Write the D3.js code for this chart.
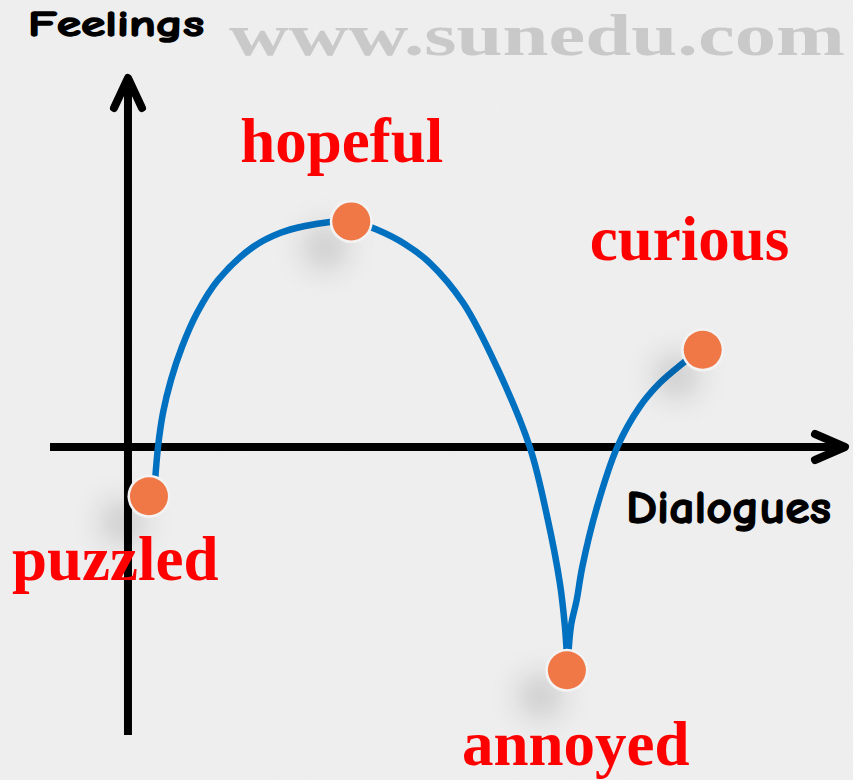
<!DOCTYPE html>
<html>
<head>
<meta charset="utf-8">
<script src="https://cdn.jsdelivr.net/npm/d3@7"></script>
<style>
  html, body { margin: 0; padding: 0; background: #eeeeee; }
  svg { display: block; }
</style>
</head>
<body>
<div id="chart"></div>
<script>
// ---------- data ----------
const feelings = ["puzzled", "hopeful", "annoyed", "curious"];
const dotX = [3.0, 31.9, 62.7, 82.1];
const dotY = [-8.2, 37.6, -37.2, 16.2];

// first stretch of the feeling curve (puzzled -> hopeful -> annoyed)
const arcX = [3.86, 4.29, 5.0, 6.14, 7.71, 9.86, 12.86, 17.86, 21.71, 25.29, 28.86, 31.86, 35.6, 39.6, 43.1, 47.9, 52.7, 57.4, 59.9, 61.7, 62.4, 62.7];
const arcY = [-5.83, 0, 5.67, 11.17, 16.67, 22.33, 27.83, 33.33, 35.67, 36.83, 37.5, 37.67, 36.2, 33.8, 30.7, 24.0, 13.3, 0, -11.7, -22.7, -29.7, -34.7];

// second stretch (annoyed -> curious)
const riseX = [62.9, 63.3, 64.1, 64.9, 67.0, 69.9, 73.1, 76.0, 79.3, 81.7];
const riseY = [-34.7, -29.7, -25.5, -20.0, -10.0, 0, 6.7, 10.7, 14.0, 16.2];

const xTitle = "Dialogues";
const yTitle = "Feelings";
const watermark = "www.sunedu.com";

// ---------- layout ----------
const W = 853, H = 780;
const xDomain = [-11.14, 102.43];
const yDomain = [-48, 61.5];
const labelOffsets = [[-137, 84], [-111, -59], [-105, 95], [-113, -90]];

const svg = d3.select("#chart").append("svg")
  .attr("width", W).attr("height", H);

const defs = svg.append("defs");
const sh = defs.append("filter").attr("id", "shadow")
  .attr("x", "-200%").attr("y", "-200%").attr("width", "500%").attr("height", "500%");
sh.append("feDropShadow").attr("dx", -26).attr("dy", 26)
  .attr("stdDeviation", 15).attr("flood-color", "#000").attr("flood-opacity", 0.16);

const noise = defs.append("filter").attr("id", "noise");
noise.append("feTurbulence").attr("type", "fractalNoise").attr("baseFrequency", 0.9).attr("numOctaves", 2).attr("seed", 3);
noise.append("feColorMatrix").attr("type", "matrix")
  .attr("values", "0 0 0 0 1  0 0 0 0 1  0 0 0 0 1  0 0 0 0.35 0");

svg.append("rect").attr("width", W).attr("height", H).attr("fill", "#ececec");
svg.append("rect").attr("width", W).attr("height", H).attr("filter", "url(#noise)").attr("opacity", 0.6);

const x = d3.scaleLinear().domain(xDomain).range([50, 845]);
const y = d3.scaleLinear().domain(yDomain).range([735, 78]);

// watermark
svg.append("text")
  .attr("x", 229).attr("y", 55)
  .attr("font-family", "'Liberation Serif', 'Times New Roman', serif")
  .attr("font-weight", "bold").attr("font-size", 60)
  .attr("fill", "#c9c9c9")
  .attr("textLength", 616).attr("lengthAdjust", "spacingAndGlyphs")
  .text(watermark);

// axes
const axisG = svg.append("g")
  .attr("stroke", "#000").attr("stroke-width", 8)
  .attr("stroke-linecap", "round").attr("stroke-linejoin", "round").attr("fill", "none");

const x0 = x(0), y0 = y(0);
axisG.append("line").attr("x1", x(xDomain[0])).attr("x2", x(xDomain[1]) - 4)
  .attr("y1", y0).attr("y2", y0).attr("stroke-linecap", "butt");
axisG.append("path")
  .attr("d", `M${x(xDomain[1]) - 30},${y0 - 13} L${x(xDomain[1])},${y0} L${x(xDomain[1]) - 30},${y0 + 13}`);

axisG.append("line").attr("x1", x0).attr("x2", x0)
  .attr("y1", y(yDomain[0])).attr("y2", y(yDomain[1]) + 4).attr("stroke-linecap", "butt");
axisG.append("path")
  .attr("d", `M${x0 - 14},${y(yDomain[1]) + 30} L${x0},${y(yDomain[1])} L${x0 + 14},${y(yDomain[1]) + 30}`);

// axis titles
const comic = "'Comic Sans MS', 'Comic Neue', 'Noto Sans', 'DejaVu Sans', sans-serif";
svg.append("text")
  .attr("x", 28).attr("y", 36)
  .attr("font-family", comic).attr("font-weight", "bold").attr("font-size", 37)
  .attr("fill", "#000").attr("stroke", "#000").attr("stroke-width", 1.4).attr("stroke-linejoin", "round")
  .attr("textLength", 176).attr("lengthAdjust", "spacingAndGlyphs")
  .text(yTitle);
svg.append("text")
  .attr("x", 626).attr("y", 523)
  .attr("font-family", comic).attr("font-weight", "bold").attr("font-size", 46)
  .attr("fill", "#000").attr("stroke", "#000").attr("stroke-width", 1.3).attr("stroke-linejoin", "round")
  .attr("textLength", 205).attr("lengthAdjust", "spacingAndGlyphs")
  .text(xTitle);

// curve
const line = d3.line()
  .x(d => x(d[0])).y(d => y(d[1]))
  .curve(d3.curveCatmullRom.alpha(0.5));

const arcPts = arcX.map((v, i) => [v, arcY[i]]);
const risePts = riseX.map((v, i) => [v, riseY[i]]);

svg.append("g").selectAll("path")
  .data([arcPts, risePts]).join("path")
  .attr("d", line)
  .attr("fill", "none").attr("stroke", "#0070c0").attr("stroke-width", 6.5)
  .attr("stroke-linecap", "butt");

// dots
const dots = feelings.map((f, i) => ({ name: f, x: dotX[i], y: dotY[i], off: labelOffsets[i] }));

svg.append("g").selectAll("circle")
  .data(dots).join("circle")
  .attr("cx", d => x(d.x)).attr("cy", d => y(d.y)).attr("r", 21.5)
  .attr("fill", "#f3f3f3").attr("filter", "url(#shadow)");

svg.append("g").selectAll("circle")
  .data(dots).join("circle")
  .attr("cx", d => x(d.x)).attr("cy", d => y(d.y)).attr("r", 19)
  .attr("fill", "#f07746");

// labels
svg.append("g").selectAll("text")
  .data(dots).join("text")
  .attr("x", d => x(d.x) + d.off[0]).attr("y", d => y(d.y) + d.off[1])
  .attr("font-family", "'Liberation Serif', 'Times New Roman', serif")
  .attr("font-weight", "bold").attr("font-size", 63)
  .attr("fill", "#ff0000")
  .text(d => d.name);
</script>
</body>
</html>
